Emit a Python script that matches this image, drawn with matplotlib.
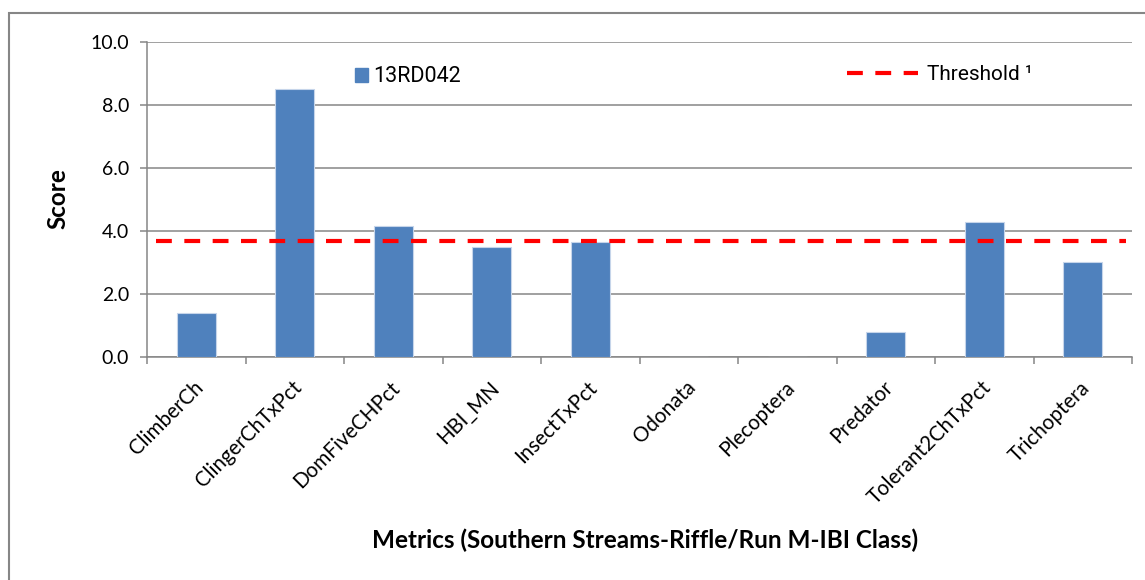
import matplotlib
matplotlib.use('Agg')
from matplotlib import pyplot as plt
from matplotlib.patches import Patch, Rectangle
from matplotlib.lines import Line2D
from matplotlib.transforms import ScaledTranslation

# 数据
metrics = ['ClimberCh', 'ClingerChTxPct', 'DomFiveCHPct', 'HBI_MN', 'InsectTxPct',
           'Odonata', 'Plecoptera', 'Predator', 'Tolerant2ChTxPct', 'Trichoptera']
scores = [1.38, 8.53, 4.17, 3.50, 3.64, 0.0, 0.0, 0.78, 4.29, 3.01]
site = '13RD042'
threshold = 3.68
yticks = [0, 2, 4, 6, 8, 10]

bar_color = '#4F81BD'
grid_color = '#868686'

plt.rcParams['font.family'] = ['Lato', 'DejaVu Sans']

fig = plt.figure(figsize=(11.45, 5.8), dpi=100)
ax = fig.add_axes([147 / 1145, 1 - 356.7 / 580, 985 / 1145, 314.4 / 580])

x = list(range(len(metrics)))
ax.bar(x, scores, width=0.4, color=bar_color, edgecolor='#c6d5ea', linewidth=0.8, zorder=3)

# 阈值线
ax.axhline(threshold, xmin=0.009, xmax=0.994, color='#FF0000', lw=3,
           dashes=(3.8, 3.0), zorder=4)

ax.set_xlim(-0.5, len(metrics) - 0.5)
ax.set_ylim(0, 10)
ax.set_yticks(yticks)
ax.set_yticklabels(['%.1f' % v for v in yticks], fontsize=14)
ax.yaxis.grid(True, color=grid_color, lw=1.1, zorder=0)
ax.set_axisbelow(True)

# 类别刻度在边界，标签在中心
ax.set_xticks(x)
ax.set_xticks([i - 0.5 for i in range(len(metrics) + 1)], minor=True)
ax.set_xticklabels(metrics, fontsize=14.8, rotation=45, ha='right', va='center',
                   rotation_mode='anchor')
ax.tick_params(axis='x', which='major', length=0, pad=20)
ax.tick_params(axis='x', which='minor', length=5, color=grid_color, width=1.1)
ax.tick_params(axis='y', length=5, color=grid_color, width=1.1, pad=8)
offset = ScaledTranslation(4 / 100, 0, fig.dpi_scale_trans)
for lab in ax.get_xticklabels():
    lab.set_transform(lab.get_transform() + offset)

for s in ['top', 'right']:
    ax.spines[s].set_visible(False)
for s in ['left', 'bottom']:
    ax.spines[s].set_color(grid_color)
    ax.spines[s].set_linewidth(1.1)

# 坐标轴标题
fig.text(58 / 1145, 1 - 199 / 580, 'Score', rotation=90, ha='center', va='center',
         fontsize=17.5, fontweight='bold')
fig.text(645 / 1145, 1 - 540 / 580, 'Metrics (Southern Streams-Riffle/Run M-IBI Class)',
         ha='center', va='center', fontsize=17.5, fontweight='bold')

# 图例
leg1 = ax.legend(handles=[Patch(facecolor=bar_color, edgecolor=bar_color)], labels=[site],
                 loc='center left', bbox_to_anchor=((355 - 147) / 985, (356.7 - 77) / 314.4),
                 frameon=False, borderpad=0, borderaxespad=0, handlelength=0.6,
                 handleheight=0.6, handletextpad=0.25, prop={'family': 'Roboto', 'size': 15.5})
ax.add_artist(leg1)
ax.legend(handles=[Line2D([0], [0], color='#FF0000', lw=3, dashes=(3.8, 3.0))],
          labels=['Threshold \u00b9'], loc='center left',
          bbox_to_anchor=((847 - 147) / 985, (356.7 - 75) / 314.4),
          frameon=False, borderpad=0, borderaxespad=0, handlelength=3.4,
          handletextpad=0.45, prop={'family': 'Roboto', 'size': 15})

# 外框
fig.patches.append(Rectangle((9 / 1145, -0.1), 1.2, 0.1 + 1 - 12.7 / 580,
                             transform=fig.transFigure, fill=False,
                             edgecolor=grid_color, lw=1.5))

plt.savefig('out.png', dpi=100)
